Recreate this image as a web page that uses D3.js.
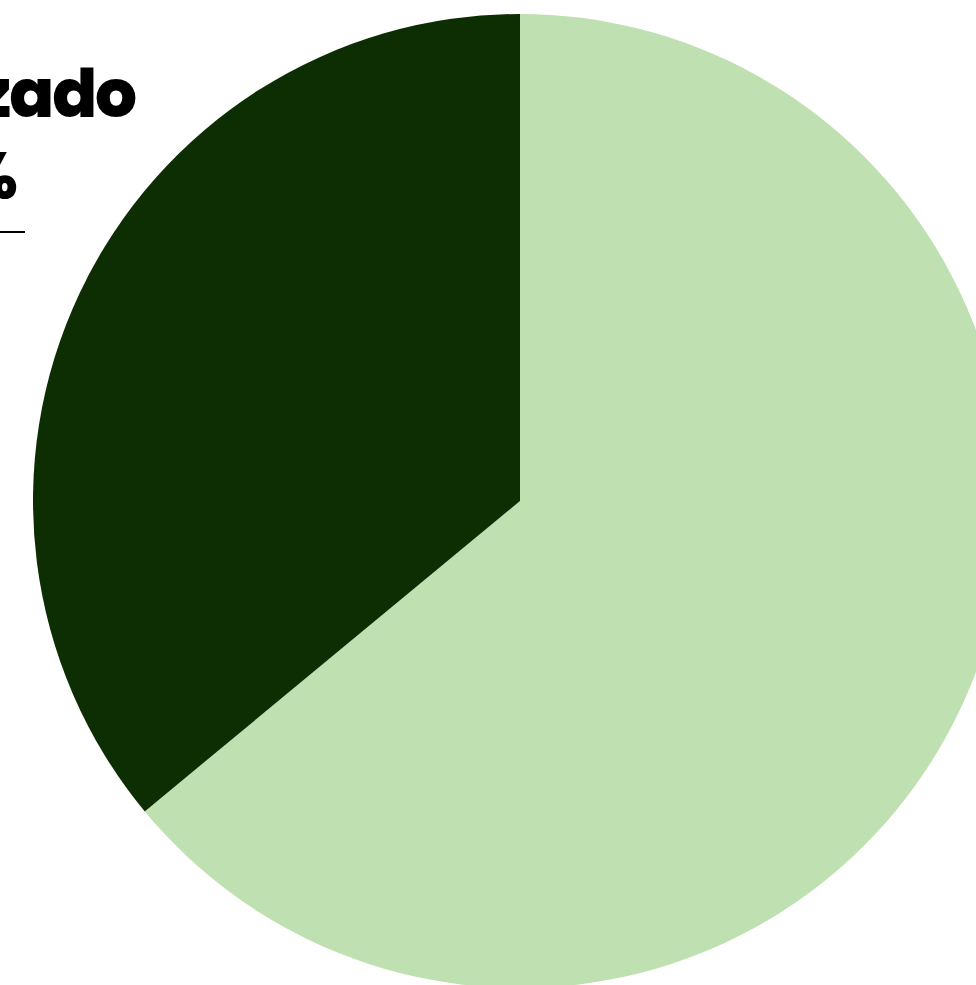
<!DOCTYPE html>
<html>
<head>
<meta charset="utf-8">
<script src="https://cdn.jsdelivr.net/npm/d3@7"></script>
<style>
  body { margin: 0; background: #fff; }
</style>
</head>
<body>
<script>
const width = 976;
const height = 985;

// slices, clockwise from 12 o'clock
const categories = ["Disponible", "Utilizado"];
const values = [64, 36];
const colors = ["#bfe0b0", "#0d2e02"];

const labelLines = ["Utilizado", "36%"];

const cx = 520, cy = 501, radius = 487;

const svg = d3.select("body").append("svg")
  .attr("width", width)
  .attr("height", height);

const pie = d3.pie().sort(null).value(d => d.value);
const arc = d3.arc().innerRadius(0).outerRadius(radius);

const data = categories.map((c, i) => ({ name: c, value: values[i] }));

const color = d3.scaleOrdinal().domain(categories).range(colors);

svg.append("g")
  .attr("transform", `translate(${cx},${cy})`)
  .selectAll("path")
  .data(pie(data))
  .join("path")
  .attr("d", arc)
  .attr("fill", d => color(d.data.name));

// label, cut off by the left edge
const label = svg.append("g")
  .attr("font-family", "Poppins, Inter, sans-serif")
  .attr("font-weight", 800)
  .attr("letter-spacing", -2)
  .attr("fill", "#000");

label.append("text")
  .attr("x", 135)
  .attr("y", 117)
  .attr("text-anchor", "end")
  .attr("font-size", 66)
  .text(labelLines[0]);

label.append("text")
  .attr("x", 16)
  .attr("y", 199)
  .attr("text-anchor", "end")
  .attr("font-size", 66)
  .text(labelLines[1]);

label.append("line")
  .attr("x1", -200)
  .attr("x2", 25)
  .attr("y1", 232)
  .attr("y2", 232)
  .attr("stroke", "#000")
  .attr("stroke-width", 2);
</script>
</body>
</html>
